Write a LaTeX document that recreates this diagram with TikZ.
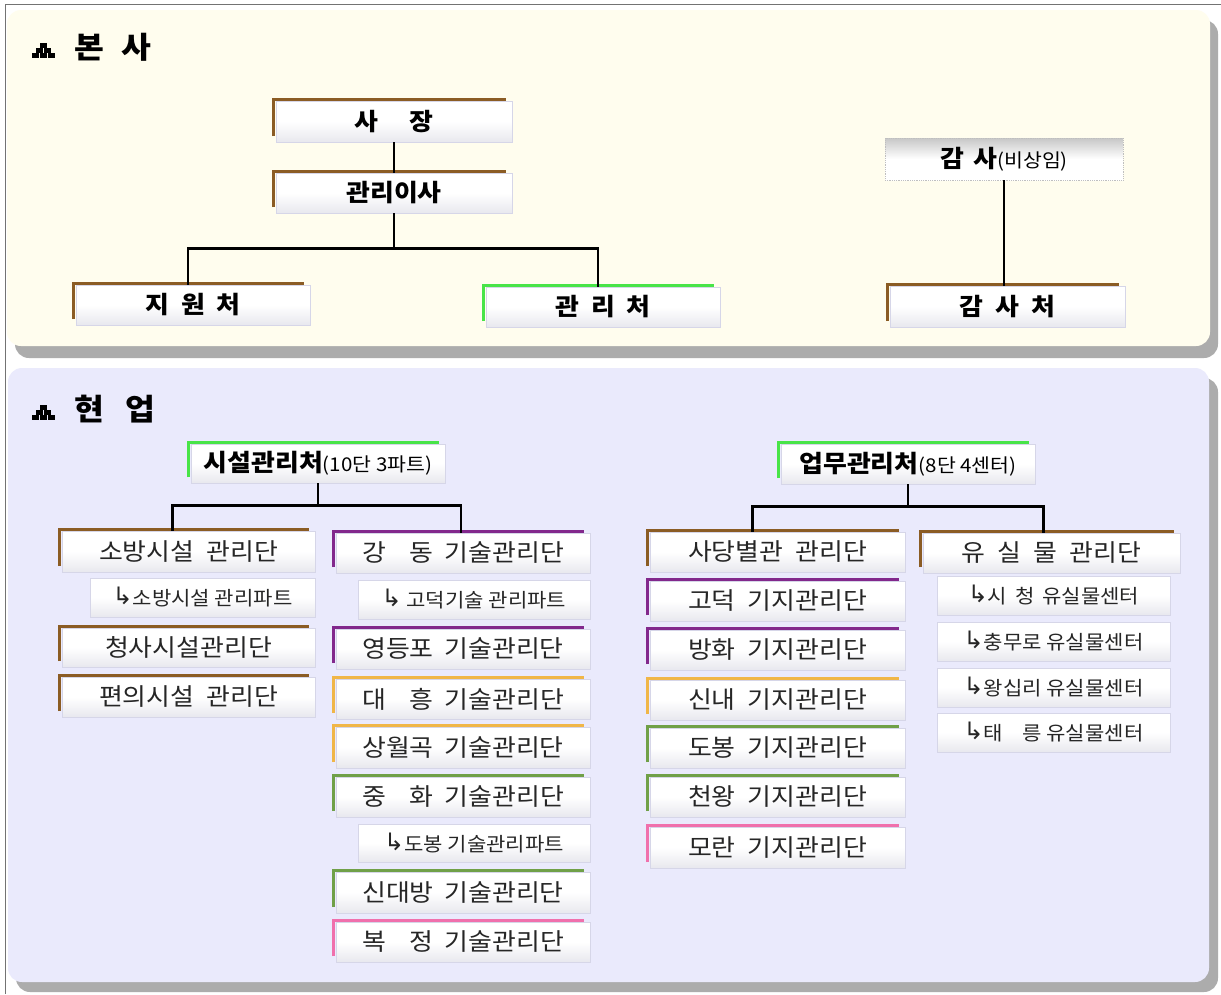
\documentclass[tikz,border=0pt]{standalone}
\usepackage{fontspec}
\setmainfont{Noto Sans CJK KR}[FakeStretch=1.08]
\newfontfamily\dv{DejaVu Sans}
\definecolor{cbrown}{RGB}{139,92,36}
\definecolor{cgreen}{RGB}{72,228,72}
\definecolor{cpurple}{RGB}{130,40,140}
\definecolor{corange}{RGB}{240,182,72}
\definecolor{colive}{RGB}{112,160,72}
\definecolor{cpink}{RGB}{240,112,172}
\definecolor{ctop}{RGB}{255,253,238}
\definecolor{cbot}{RGB}{234,234,252}
\definecolor{cshadow}{RGB}{172,172,172}
\definecolor{cbtm}{RGB}{232,232,238}
\definecolor{cedge}{RGB}{214,214,232}
\newcommand\arr{\raisebox{1pt}{\dv\fontsize{24}{26}\selectfont ↳}}
\newcommand\ob[8]{%
 \pgfmathsetmacro\bw{#4-#2-4}\pgfmathsetmacro\bh{#5-#3-3}%
 \pgfmathsetmacro\bx{(#2+#4)/2+2}\pgfmathsetmacro\by{-(#3+#5)/2-1.5}%
 \node[#7, minimum width=\bw pt, minimum height=\bh pt] (#1) at (\bx,\by) {#8};
 \draw[draw=#6, line width=3pt] (#2+1.5,-#5+6) -- (#2+1.5,-#3-1.5) -- (#4-6,-#3-1.5);
}
\newcommand\sbx[6]{%
 \pgfmathsetmacro\bw{#4-#2}\pgfmathsetmacro\bh{#5-#3}%
 \pgfmathsetmacro\bx{(#2+#4)/2}\pgfmathsetmacro\by{-(#3+#5)/2}%
 \node[subbox, minimum width=\bw pt, minimum height=\bh pt] (#1) at (\bx,\by) {#6};
}
\newcommand\pyr[2]{%
 \foreach \i in {0,1,2} {\fill (#1+\i*8,#2-10) rectangle ++(7,-5);}
 \foreach \i in {0,1} {\fill (#1+4+\i*8,#2-5) rectangle ++(7,-5);}
 \fill (#1+8,#2) rectangle ++(7,-5);
}
\begin{document}
\begin{tikzpicture}[x=1pt,y=1pt,
 conn/.style={line width=2.8pt,black},
 basebox/.style={rectangle, inner sep=0pt, top color=white, bottom color=cbtm, middle color=white, draw=cedge, line width=0.6pt},
 tbox/.style={basebox, font=\fontsize{24}{28}\selectfont\bfseries, text=black},
 hbox/.style={basebox, font=\fontsize{24}{28}\selectfont, text=black},
 rbox/.style={basebox, font=\fontsize{24}{28}\selectfont, text=black!85},
 subbox/.style={basebox, font=\fontsize{19.5}{23}\selectfont, text=black!85},
 gbox/.style={rectangle, inner sep=0pt, top color=black!22, bottom color=white, middle color=white, draw=black!25, densely dotted, line width=0.8pt, font=\fontsize{24}{28}\selectfont, text=black},
 ttl/.style={anchor=west, inner sep=0pt, font=\fontsize{30}{34}\selectfont\bfseries, text=black}]
\useasboundingbox (0,0) rectangle (1221,-994);
\fill[white] (0,0) rectangle (1221,-994);
\draw[black!55, line width=1pt] (5,-994) -- (5,-4.5) -- (1221,-4.5);
% panels
\fill[cshadow, rounded corners=14pt] (15,-20) rectangle (1218,-358);
\fill[ctop, rounded corners=14pt] (7,-10) rectangle (1210,-346);
\fill[cshadow, rounded corners=14pt] (16,-378) rectangle (1218,-992);
\fill[cbot, rounded corners=14pt] (8,-368) rectangle (1209,-982);
% titles
\pyr{32}{-43}
\node[ttl] (hq) at (74,-47) {본\hspace{.6em}사};
\pyr{32}{-405}
\node[ttl] (field) at (74,-409) {현\hspace{.7em}업};
% top section
\ob{sajang}{272}{98}{512}{142}{cbrown}{tbox}{사\hspace{1.3em}장}
\ob{idir}{272}{170}{512}{213}{cbrown}{tbox}{관리이사}
\ob{jiwon}{72}{282}{310}{325}{cbrown}{tbox}{지\hspace{.5em}원\hspace{.5em}처}
\ob{gwanri}{482}{284}{720}{327}{cgreen}{tbox}{관\hspace{.5em}리\hspace{.5em}처}
\node[gbox, minimum width=238pt, minimum height=42pt] (gamsa) at (1004,-159) {\textbf{감\hspace{.4em}사}{\fontsize{19}{22}\selectfont(비상임)}};
\ob{gamsacheo}{886}{283}{1125}{327}{cbrown}{tbox}{감\hspace{.5em}사\hspace{.5em}처}
\draw[conn] (sajang.south) -- (idir.north);
\draw[conn] (idir.south) -- ++(0,-35) coordinate (j1);
\draw[conn] (j1) -| ([xshift=-5pt]jiwon.north);
\draw[conn] (j1) -| ([xshift=-5pt]gwanri.north);
\draw[conn] (gamsa.south) -- (gamsa.south |- gamsacheo.north);
% bottom section heads
\ob{sisul}{187}{441}{445}{483}{cgreen}{hbox}{\textbf{시설관리처}{\fontsize{19}{22}\selectfont(10단 3파트)}}
\ob{upmu}{777}{441}{1035}{484}{cgreen}{hbox}{\textbf{업무관리처}{\fontsize{19}{22}\selectfont(8단 4센터)}}
% column A
\ob{sobang}{58}{528}{315}{572}{cbrown}{rbox}{소방시설\hspace{.5em}관리단}
\sbx{sobangp}{90}{578}{315}{617}{\arr{}소방시설 관리파트}
\ob{cheongsa}{58}{625}{315}{667}{cbrown}{rbox}{청사시설관리단}
\ob{pyeonui}{58}{674}{315}{717}{cbrown}{rbox}{편의시설\hspace{.5em}관리단}
% column B
\ob{gangdong}{332}{530}{590}{573}{cpurple}{rbox}{강\hspace{1em}동\hspace{.45em}기술관리단}
\sbx{godeokp}{358}{580}{590}{619}{\arr{}\ 고덕기술 관리파트}
\ob{ydp}{332}{626}{590}{669}{cpurple}{rbox}{영등포\hspace{.45em}기술관리단}
\ob{daeheung}{332}{676}{590}{719}{corange}{rbox}{대\hspace{1em}흥\hspace{.45em}기술관리단}
\ob{swg}{332}{724}{590}{768}{corange}{rbox}{상월곡\hspace{.45em}기술관리단}
\ob{junghwa}{332}{774}{590}{817}{colive}{rbox}{중\hspace{1em}화\hspace{.45em}기술관리단}
\sbx{dobongp}{358}{824}{590}{862}{\arr{}도봉 기술관리파트}
\ob{sdb}{332}{869}{590}{913}{colive}{rbox}{신대방\hspace{.45em}기술관리단}
\ob{bokjeong}{332}{919}{590}{962}{cpink}{rbox}{복\hspace{1em}정\hspace{.45em}기술관리단}
% column C
\ob{sadang}{646}{529}{905}{572}{cbrown}{rbox}{사당별관\hspace{.5em}관리단}
\ob{godeok}{646}{578}{905}{621}{cpurple}{rbox}{고덕\hspace{.5em}기지관리단}
\ob{banghwa}{646}{627}{905}{670}{cpurple}{rbox}{방화\hspace{.5em}기지관리단}
\ob{sinnae}{646}{677}{905}{720}{corange}{rbox}{신내\hspace{.5em}기지관리단}
\ob{dobong}{646}{725}{905}{768}{colive}{rbox}{도봉\hspace{.5em}기지관리단}
\ob{cheonwang}{646}{774}{905}{817}{colive}{rbox}{천왕\hspace{.5em}기지관리단}
\ob{moran}{646}{824}{905}{868}{cpink}{rbox}{모란\hspace{.5em}기지관리단}
% column D
\ob{yusil}{919}{530}{1180}{573}{cbrown}{rbox}{유\hspace{.5em}실\hspace{.5em}물\hspace{.5em}관리단}
\sbx{sicheong}{937}{576}{1170}{615}{\arr{}시\hspace{.4em}청\hspace{.4em}유실물센터}
\sbx{chungmuro}{937}{622}{1170}{661}{\arr{}충무로 유실물센터}
\sbx{wangsimni}{937}{668}{1170}{707}{\arr{}왕십리 유실물센터}
\sbx{taereung}{937}{713}{1170}{752}{\arr{}태\hspace{1em}릉 유실물센터}
% bottom connectors
\draw[conn] (sisul.south) -- ++(0,-22) coordinate (j2);
\draw[conn] (j2) -| ([xshift=-16pt]sobang.north);
\draw[conn] (j2) -| ([xshift=-2pt]gangdong.north);
\draw[conn] (upmu.south) -- ++(0,-22) coordinate (j3);
\draw[conn] (j3) -| ([xshift=-25pt]sadang.north);
\draw[conn] (j3) -| ([xshift=-8pt]yusil.north);
\end{tikzpicture}
\end{document}
